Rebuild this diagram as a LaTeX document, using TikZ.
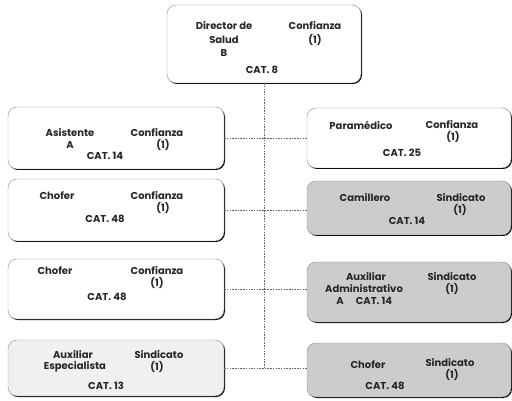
\documentclass[tikz,border=0pt]{standalone}
\usepackage{fontspec}
\setmainfont{Poppins}
\usetikzlibrary{shadows}
\begin{document}
\begin{tikzpicture}[x=1pt,y=-1pt,
 box/.style={draw=black!45, line width=0.4pt, rounded corners=9pt, fill=white,
   drop shadow={shadow xshift=1pt, shadow yshift=-1pt, fill=black, opacity=1}, inner sep=0pt},
 gbox/.style={box, fill=black!20},
 lbox/.style={box, fill=black!6},
 txt/.style={font=\bfseries\fontsize{10}{11}\selectfont, inner sep=0pt, text=black!85},
 link/.style={draw=black!60, line width=0.5pt, dash pattern=on 1.5pt off 1.2pt}]
\useasboundingbox (0,0) rectangle (512,401);
% boxes
\node[box, minimum width=194pt, minimum height=78pt] (top) at (264,44) {};
\node[box, minimum width=216pt, minimum height=62pt] (L1) at (116,138) {};
\node[box, minimum width=204pt, minimum height=60pt] (R1) at (409,138) {};
\node[box, minimum width=216pt, minimum height=62pt] (L2) at (116,210) {};
\node[gbox, minimum width=204pt, minimum height=54pt] (R2) at (409,208) {};
\node[box, minimum width=216pt, minimum height=60pt] (L3) at (116,289) {};
\node[gbox, minimum width=204pt, minimum height=60pt] (R3) at (409,292) {};
\node[lbox, minimum width=216pt, minimum height=56pt] (L4) at (116,368) {};
\node[gbox, minimum width=204pt, minimum height=54pt] (R4) at (409,370) {};
% connectors
\coordinate (j) at (top.south |- L4.east);
\draw[link] (top.south) -- (j);
\draw[link] (L1.east) -- (L1.east -| R1.west);
\draw[link] (L2.east) -- (L2.east -| R2.west);
\draw[link] (L3.east) -- (L3.east -| R3.west);
\draw[link] (L4.east) -- (L4.east -| R4.west);
% top texts
\node[txt] (t1) at (224,26) {Director de};
\node[txt] (t2) at (224,40) {Salud};
\node[txt] (t3) at (224,53) {B};
\node[txt] (t4) at (315,26) {Confianza};
\node[txt] (t5) at (315,40) {(1)};
\node[txt] (t6) at (262,70) {CAT. 8};
% L1
\node[txt] (a1) at (70,133) {Asistente};
\node[txt] (a2) at (70,145) {A};
\node[txt] (a3) at (157,133) {Confianza};
\node[txt] (a4) at (163,145) {(1)};
\node[txt] (a5) at (105,156) {CAT. 14};
% L2
\node[txt] (b1) at (57,196) {Chofer};
\node[txt] (b2) at (157,196) {Confianza};
\node[txt] (b3) at (163,208) {(1)};
\node[txt] (b4) at (105,219) {CAT. 48};
% L3
\node[txt] (c1) at (55,271) {Chofer};
\node[txt] (c2) at (157,271) {Confianza};
\node[txt] (c3) at (157,283) {(1)};
\node[txt] (c4) at (107,297) {CAT. 48};
% L4
\node[txt] (d1) at (73,355) {Auxiliar};
\node[txt] (d2) at (75,367) {Especialista};
\node[txt] (d3) at (159,355) {Sindicato};
\node[txt] (d4) at (157,367) {(1)};
\node[txt] (d5) at (106,386) {CAT. 13};
% R1
\node[txt] (e1) at (361,125) {Paramédico};
\node[txt] (e2) at (452,125) {Confianza};
\node[txt] (e3) at (453,137) {(1)};
\node[txt] (e4) at (402,153) {CAT. 25};
% R2
\node[txt] (f1) at (365,198) {Camillero};
\node[txt] (f2) at (461,198) {Sindicato};
\node[txt] (f3) at (460,210) {(1)};
\node[txt] (f4) at (407,221) {CAT. 14};
% R3
\node[txt] (g1) at (366,277) {Auxiliar};
\node[txt] (g2) at (364,289) {Administrativo};
\node[txt] (g3) at (340,301) {A};
\node[txt] (g4) at (374,301) {CAT. 14};
\node[txt] (g5) at (452,277) {Sindicato};
\node[txt] (g6) at (452,289) {(1)};
% R4
\node[txt] (h1) at (368,365) {Chofer};
\node[txt] (h2) at (450,363) {Sindicato};
\node[txt] (h3) at (452,375) {(1)};
\node[txt] (h4) at (385,386) {CAT. 48};
\end{tikzpicture}
\end{document}
